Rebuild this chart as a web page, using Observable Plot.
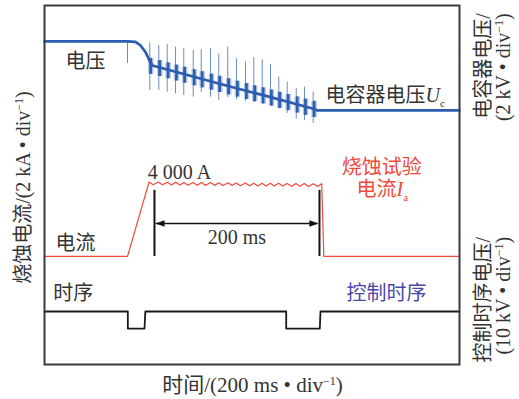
<!DOCTYPE html>
<html>
<head>
<meta charset="utf-8">
<script src="https://cdn.jsdelivr.net/npm/d3@7"></script>
<script src="https://cdn.jsdelivr.net/npm/@observablehq/plot@0.6"></script>
<style>
  html, body { margin: 0; padding: 0; background: #fff; }
  #chart svg { display: block; }
</style>
</head>
<body>
<div id="chart"></div>
<script>
// ---------------- data (time in ms, 200 ms/div) ----------------
// Capacitor voltage Uc (kV, 2 kV/div): mean trace
const voltMeanTime = [0, 100, 109.6, 115.7, 121.7, 126.5, 130, 212, 272.3, 324, 329, 500];
const voltMeanKV   = [17.46, 17.46, 17.43, 17.24, 16.88, 16.43, 16.16, 15.16, 14.45, 13.82, 13.73, 13.73];
// discharge spikes on the voltage trace
const spikeTime     = [100, 126.9, 137.7, 147.8, 157.8, 167.8, 179.2, 188.8, 200.0, 210.0, 220.8,
                       231.3, 242.2, 252.2, 262.3, 272.3, 282.3, 292.4, 303.3, 313.3, 323.7];
const spikeTopKV    = [17.46, 17.37, 17.24, 17.30, 17.15, 17.06, 16.97, 17.01, 17.06, 16.79, 17.15,
                       16.52, 16.34, 16.58, 16.47, 16.22, 15.53, 15.26, 14.90, 14.99, 14.72];
const spikeBottomKV = [16.27, 14.81, 14.81, 14.72, 14.63, 14.54, 14.45, 14.70, 14.45, 14.27, 14.43,
                       14.32, 14.22, 14.16, 14.09, 14.00, 13.82, 13.57, 13.28, 13.19, 13.03];
// dense oscillation band around each spike
const burstHighKV = [16.54, 16.42, 16.30, 16.18, 16.06, 15.93, 15.82, 15.69, 15.57, 15.44,
                     15.31, 15.18, 15.06, 14.95, 14.83, 14.71, 14.59, 14.46, 14.34, 14.22];
const burstLowKV  = [15.68, 15.56, 15.44, 15.32, 15.20, 15.06, 14.95, 14.82, 14.70, 14.57,
                     14.45, 14.32, 14.20, 14.08, 13.96, 13.84, 13.72, 13.59, 13.46, 13.35];

// Ablation test current Ia (kA, 2 kA/div)
const iaTime = [0, 100, 126, 131, 137, 142, 148, 153, 158, 163, 168, 173, 179, 184, 189, 194, 200, 205,
                210, 215, 221, 226, 231, 236, 242, 247, 252, 257, 262, 267, 272, 277, 282, 287, 292,
                298, 303, 308, 313, 318, 324, 329, 334, 336.5, 500];
const iaKA   = [0, 0, 4.02, 3.87, 4.02, 3.87, 4.01, 3.86, 4.01, 3.86, 4.00, 3.85, 4.00, 3.85, 3.99, 3.84,
                3.99, 3.84, 3.98, 3.83, 3.98, 3.83, 3.97, 3.82, 3.97, 3.82, 3.96, 3.81, 3.96, 3.81, 3.95,
                3.80, 3.95, 3.80, 3.94, 3.79, 3.94, 3.79, 3.94, 3.78, 3.93, 3.78, 3.93, 0, 0];

// Control timing voltage (kV, 10 kV/div)
const ctrlTime = [0, 100.4, 100.4, 120.5, 121.5, 291.2, 291.2, 331.7, 332.5, 500];
const ctrlKV   = [0, 0, -4.6, -4.6, 0, 0, -4.6, -4.6, 0, 0];

// 200 ms duration annotation
const durationStart = 132.5, durationEnd = 331.3;
const durationLabel = "200 ms";
const peakLabel = "4 000 A";

// ---------------- screen offsets of the channels (div) ----------------
const voltZeroDiv = 0, voltPerDiv = 2;
const curZeroDiv = 2.92, curPerDiv = 2;
const ctrlZeroDiv = 1.432, ctrlPerDiv = 10;
const vDiv = v => voltZeroDiv + v / voltPerDiv;
const iDiv = v => curZeroDiv + v / curPerDiv;
const cDiv = v => ctrlZeroDiv + v / ctrlPerDiv;

const voltMean = voltMeanTime.map((t, i) => ({t, y: vDiv(voltMeanKV[i])}));
const spikes = spikeTime.map((t, i) => ({t, y1: vDiv(spikeBottomKV[i]), y2: vDiv(spikeTopKV[i])}));
const bursts = burstHighKV.map((h, i) => ({t: spikeTime[i + 1] + 1.2, y1: vDiv(burstLowKV[i]), y2: vDiv(h)}));
const current = iaTime.map((t, i) => ({t, y: iDiv(iaKA[i])}));
const ctrl = ctrlTime.map((t, i) => ({t, y: cDiv(ctrlKV[i])}));

const BLUE = "#2c5dae", RED = "#f04a3c", INK = "#333333";
const FONT = "'Liberation Serif','Noto Sans CJK SC',serif";

const arrowHead = {
  draw(ctx) { ctx.moveTo(0, 0); ctx.lineTo(9, -3.2); ctx.lineTo(9, 3.2); ctx.closePath(); }
};

const labels = [
  {t: 25.3, y: 8.19, text: "电压", fill: INK, anchor: "start"},
  {t: 338.6, y: 7.27, text: "电容器电压*U*_{c}", fill: INK, anchor: "start"},
  {t: 124.5, y: 5.19, text: peakLabel, fill: INK, anchor: "start"},
  {t: 406.4, y: 5.32, text: "烧蚀试验", fill: RED, anchor: "middle"},
  {t: 375.9, y: 4.72, text: "电流*I*_{a}", fill: RED, anchor: "start"},
  {t: (durationStart + durationEnd) / 2, y: 3.43, text: durationLabel, fill: INK, anchor: "middle"},
  {t: 13.3, y: 3.27, text: "电流", fill: INK, anchor: "start"},
  {t: 10.5, y: 1.91, text: "时序", fill: INK, anchor: "start"},
  {t: 363.9, y: 1.92, text: "控制时序", fill: "#4a48a8", anchor: "start"}
];

// axis titles (placed outside the frame)
const titles = [
  {t: 250.6, y: -0.57, text: "时间/(200 ms • div^{−1})", rotate: 0, anchor: "middle", size: 21},
  {t: -25.3, y: 4.78, text: "烧蚀电流/(2 kA • div^{−1})", rotate: -90, anchor: "middle", size: 20},
  {t: 528.9, y: 9.49, text: "电容器电压/", rotate: -90, anchor: "end", size: 20},
  {t: 553.0, y: 9.49, text: "(2 kV • div^{−1})", rotate: -90, anchor: "end", size: 20},
  {t: 528.9, y: 3.45, text: "控制时序电压/", rotate: -90, anchor: "end", size: 20},
  {t: 553.0, y: 3.45, text: "(10 kV • div^{−1})", rotate: -90, anchor: "end", size: 20}
];

const chart = Plot.plot({
  width: 519,
  height: 399,
  marginLeft: 44,
  marginRight: 60,
  marginTop: 5,
  marginBottom: 35,
  style: {fontFamily: FONT, background: "#fff"},
  x: {domain: [0, 500], axis: null},
  y: {domain: [0, 9.7], axis: null},
  marks: [
    // voltage
    Plot.ruleX(spikes, {x: "t", y1: "y1", y2: "y2", stroke: BLUE, strokeWidth: 1, strokeOpacity: 0.7}),
    Plot.ruleX(bursts, {x: "t", y1: "y1", y2: "y2", stroke: BLUE, strokeWidth: 5.5, strokeOpacity: 0.35}),
    Plot.ruleX(bursts, {x: "t", y1: "y1", y2: "y2", stroke: BLUE, strokeWidth: 2.5}),
    Plot.line(voltMean, {x: "t", y: "y", stroke: BLUE, strokeWidth: 2.7}),
    // current
    Plot.line(current, {x: "t", y: "y", stroke: RED, strokeWidth: 1.2}),
    // control timing
    Plot.line(ctrl, {x: "t", y: "y", stroke: "#1a1a1a", strokeWidth: 1.8}),
    // 200 ms annotation
    Plot.ruleX([durationStart, durationEnd], {y1: iDiv(0), y2: iDiv(3.57), stroke: "#111", strokeWidth: 2}),
    Plot.ruleY([iDiv(1.78)], {x1: durationStart + 2, x2: durationEnd - 2, stroke: "#111", strokeWidth: 1.4}),
    Plot.dot([{t: durationStart + 1.3, r: 0}, {t: durationEnd - 1.3, r: 180}],
      {x: "t", y: iDiv(1.78), symbol: arrowHead, rotate: "r", fill: "#111", stroke: "none"}),
    // in-plot labels
    Plot.text(labels.filter(d => d.anchor === "start"), {x: "t", y: "y", text: "text", fill: "fill", textAnchor: "start", fontSize: 20}),
    Plot.text(labels.filter(d => d.anchor === "middle"), {x: "t", y: "y", text: "text", fill: "fill", textAnchor: "middle", fontSize: 20}),
    // axis titles
    ...titles.map(d => Plot.text([d], {x: "t", y: "y", text: "text", rotate: d.rotate, textAnchor: d.anchor, fontSize: d.size, fill: INK})),
    Plot.frame({stroke: "#3a3a3a", strokeWidth: 2})
  ]
});

// rich text: *italic*, _{sub}, ^{sup}
function rich(el, s) {
  const re = /(\^\{[^}]*\}|_\{[^}]*\}|\*[^*]*\*)/g;
  const parts = s.split(re).filter(p => p !== "");
  el.textContent = "";
  let shift = 0;
  for (const p of parts) {
    const ts = document.createElementNS("http://www.w3.org/2000/svg", "tspan");
    let target = 0;
    if (p.startsWith("^{")) { ts.textContent = p.slice(2, -1); ts.setAttribute("font-size", "12"); target = -7; }
    else if (p.startsWith("_{")) { ts.textContent = p.slice(2, -1); ts.setAttribute("font-size", "11"); target = 5; }
    else if (p.startsWith("*")) { ts.textContent = p.slice(1, -1); ts.setAttribute("font-style", "italic"); }
    else ts.textContent = p;
    if (target !== shift) { ts.setAttribute("dy", target - shift); shift = target; }
    el.appendChild(ts);
  }
}
d3.select(chart).selectAll("text").each(function() {
  const s = this.textContent;
  if (/[\^_]\{|\*/.test(s)) rich(this, s);
});

document.getElementById("chart").appendChild(chart);
</script>
</body>
</html>
